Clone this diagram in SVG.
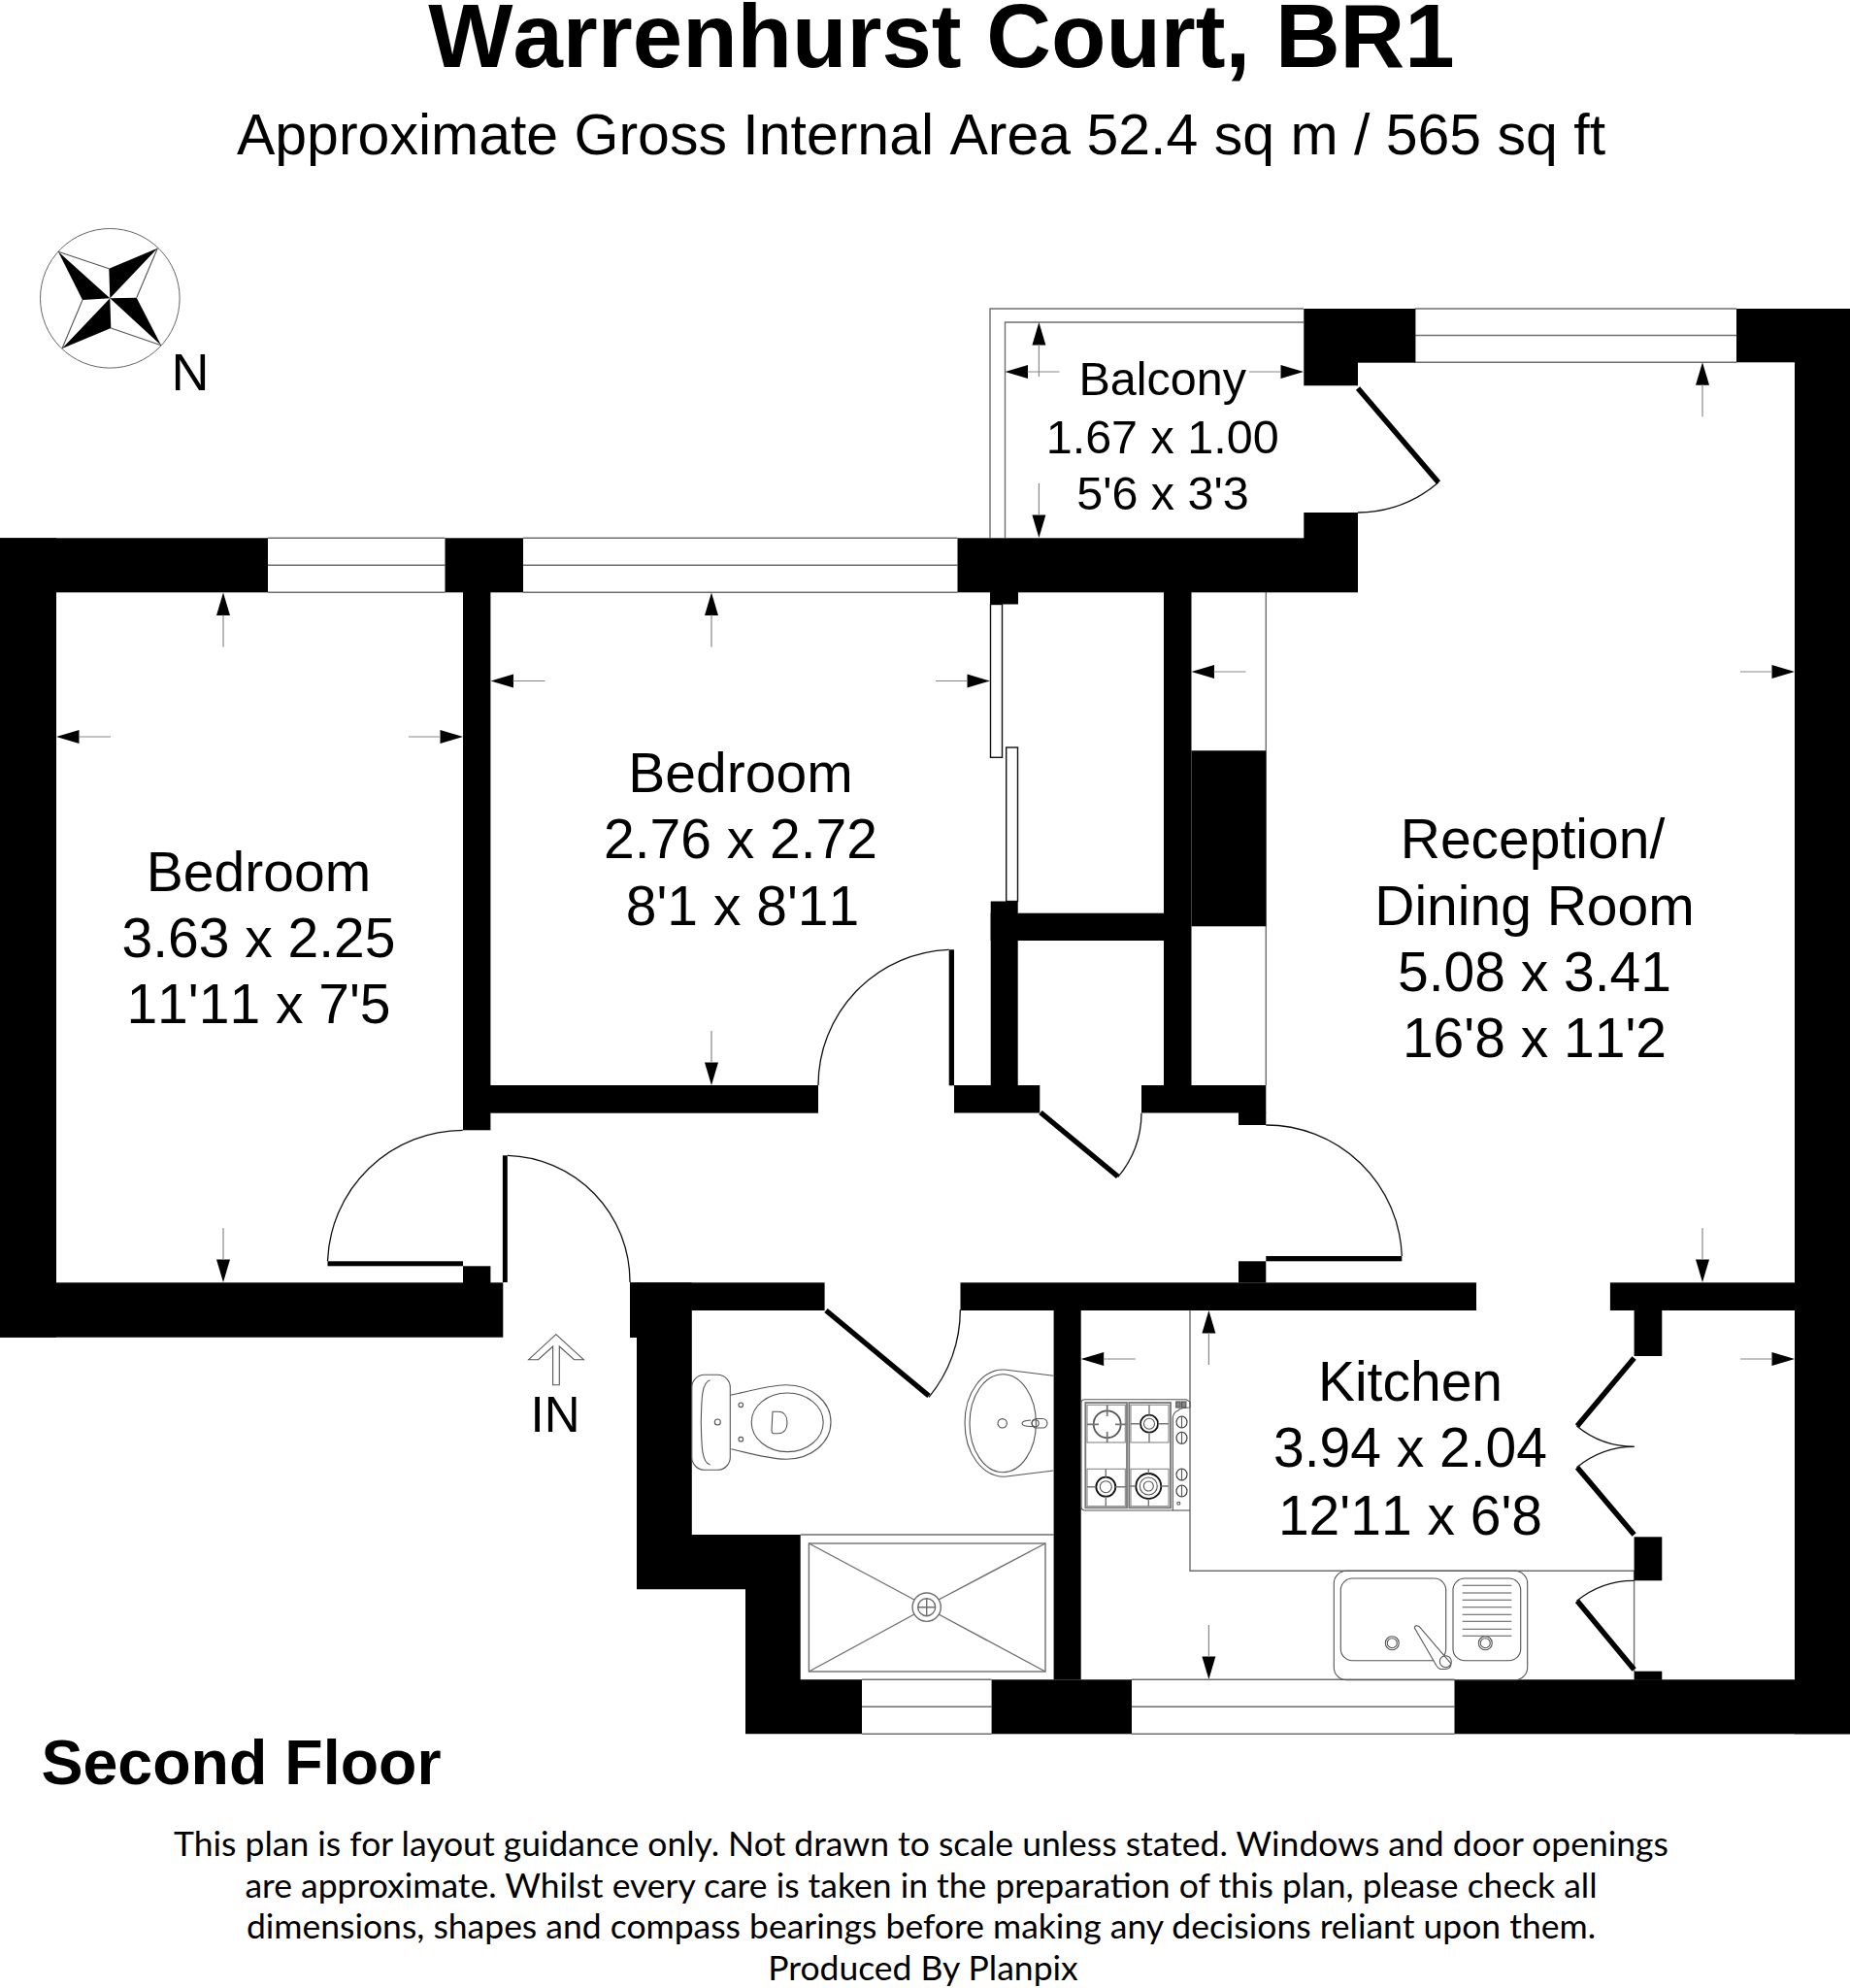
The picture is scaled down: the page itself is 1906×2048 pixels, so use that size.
<svg xmlns="http://www.w3.org/2000/svg" width="1906" height="2048" viewBox="0 0 1906 2048">
<style>
text{font-family:"Liberation Sans",Arial,sans-serif;fill:#000;text-anchor:middle;font-kerning:none}
.room{font-size:57px}
.bal{font-size:48.5px}
.foot{font-family:Lato,"Liberation Sans",sans-serif;font-size:35.5px;font-kerning:normal}
.w{fill:#000}
.t{fill:none;stroke:#6e6e6e;stroke-width:1.4}
.f{fill:none;stroke:#555;stroke-width:1.1}
.k{fill:none;stroke:#111;stroke-width:1.4}
.leaf{fill:none;stroke:#000;stroke-width:5.5}
.arc{fill:none;stroke:#111;stroke-width:1.3}
.stem{stroke:#888;stroke-width:1.2}
</style>
<defs>
<g id="aU"><path d="M0 0L-7 23.500H7Z" fill="#000"/><line x1="0" y1="23" x2="0" y2="56" class="stem"/></g>
<g id="aD"><path d="M0 0L-7 -23.500H7Z" fill="#000"/><line x1="0" y1="-23" x2="0" y2="-56" class="stem"/></g>
<g id="aL"><path d="M0 0L23.500 -7V7Z" fill="#000"/><line x1="23" y1="0" x2="56" y2="0" class="stem"/></g>
<g id="aR"><path d="M0 0L-23.500 -7V7Z" fill="#000"/><line x1="-23" y1="0" x2="-56" y2="0" class="stem"/></g>
</defs>
<rect width="1906" height="2048" fill="#fff"/>

<g id="title">
<text x="970" y="69" font-size="92.400" font-weight="700">Warrenhurst Court, BR1</text>
<text x="949" y="159" font-size="59">Approximate Gross Internal Area 52.4 sq m / 565 sq ft</text>
</g>

<g id="compass">
<circle cx="113.300" cy="307.300" r="71.800" fill="none" stroke="#666" stroke-width="1"/>
<path class="f" d="M60 259.300L112.300 276.700M162.300 255.700L140.700 306.700M166 355.700L114.300 338M64 359L85 309"/>
<path class="w" d="M60 259.300L113.300 307.300L85 309ZM162.300 255.700L113.300 307.300L112.300 276.700ZM166 355.700L113.300 307.300L140.700 306.700ZM64 359L113.300 307.300L114.300 338Z"/>
<text x="196" y="402" font-size="54">N</text>
</g>

<g id="thin-lines">
<path class="t" d="M276 554.300H458.500M276 582.300H458.500M276 610.300H458.500"/>
<path class="t" d="M539 554.300H986.500M539 582.300H986.500M539 610.300H986.500"/>
<path class="t" d="M1458 318H1789M1458 345.500H1789M1399 373.300H1789"/>
<path class="t" d="M888 1730.300H1021.600M888 1758.300H1021.600M888 1786.300H1021.600"/>
<path class="t" d="M1165.800 1730.300H1498.500M1165.800 1758.300H1498.500M1165.800 1786.300H1498.500"/>
<path class="t" d="M1020 554V318H1343M1035.500 554V332H1343"/>
<path class="t" d="M1304.300 610V1118M1227.500 773.600H1304.300"/>
<path class="t" d="M1226 1350V1618.300H1683.600V1722"/>
<path class="t" d="M824.700 1581H1085.600"/>
<rect class="k" x="1020.500" y="622.500" width="12" height="157.800"/>
<rect class="k" x="1036.700" y="770" width="11.800" height="158.500"/>
</g>

<g id="walls" class="w">
<rect x="0" y="554.300" width="276" height="56"/>
<rect x="0" y="554.300" width="58" height="823.400"/>
<rect x="0" y="1321.300" width="518.300" height="56.400"/>
<rect x="458.500" y="554.300" width="80.500" height="56"/>
<rect x="477" y="610" width="28.400" height="554.300"/>
<rect x="986.500" y="554.300" width="412.500" height="56"/>
<path d="M1343.300 318H1458.400V373.300H1399V397.300H1343.300Z"/>
<rect x="1343.300" y="528" width="55.700" height="30"/>
<rect x="1789" y="318" width="117" height="55.300"/>
<rect x="1849" y="318" width="57" height="1468.300"/>
<rect x="1020" y="610" width="29" height="12.500"/>
<rect x="505" y="1118" width="338" height="28.700"/>
<rect x="983" y="1118" width="88.300" height="28.500"/>
<rect x="1020.700" y="928.500" width="28" height="190"/>
<rect x="1020.700" y="940.700" width="179" height="28.300"/>
<rect x="1199" y="610" width="28.500" height="508"/>
<rect x="1227.500" y="773.600" width="76.800" height="180.700"/>
<rect x="1176" y="1118" width="128.300" height="28.500"/>
<rect x="1276" y="1146" width="28.300" height="13"/>
<rect x="1276" y="1299.300" width="28.300" height="22"/>
<rect x="477" y="1304.300" width="28.400" height="20"/>
<rect x="989.500" y="1321.300" width="531.500" height="28.700"/>
<rect x="649" y="1321.300" width="200.600" height="28.700"/>
<rect x="649" y="1321.300" width="10" height="56.700"/>
<path d="M656 1321.300H712.800V1581H824.700V1730.300H888V1786.300H768V1637.300H656Z"/>
<rect x="1085.600" y="1350" width="28.100" height="380.300"/>
<rect x="1021.600" y="1730.300" width="144.400" height="56"/>
<rect x="1498.500" y="1730.300" width="407.500" height="56"/>
<rect x="1658.900" y="1321.300" width="190.100" height="28.700"/>
<rect x="1683.600" y="1350" width="28.700" height="47"/>
<rect x="1683.600" y="1583.300" width="28.700" height="45"/>
<rect x="1683.600" y="1721.700" width="28.700" height="9"/>
</g>

<g id="doors">
<path class="leaf" d="M1399 400L1482 497"/><path class="arc" d="M1482 497A130 130 0 0 1 1399 528"/>
<rect x="977.700" y="978.300" width="5.300" height="140" class="w"/><path class="arc" d="M843 1118A140 140 0 0 1 977.700 978.300"/>
<rect x="337.500" y="1299.300" width="139.500" height="5" class="w"/><path class="arc" d="M476.800 1164.300A140 140 0 0 0 337.500 1299.300"/>
<rect x="517.900" y="1190.300" width="4.900" height="130.700" class="w"/><path class="arc" d="M522.800 1190.300A130 130 0 0 1 649 1321"/>
<rect x="1304.300" y="1294" width="140" height="5.300" class="w"/><path class="arc" d="M1304.300 1159A140 140 0 0 1 1444.300 1294"/>
<path class="leaf" d="M1072 1146L1151.700 1212"/><path class="arc" d="M1151.700 1212.700A104 104 0 0 0 1176 1146.700"/>
<path class="leaf" d="M851 1350L957 1438"/><path class="arc" d="M957 1439.300A140 140 0 0 0 989.300 1349.300"/>
<path class="leaf" d="M1683.600 1399L1625 1469"/><path class="arc" d="M1624.400 1469A93 93 0 0 0 1683.600 1490.300"/>
<path class="leaf" d="M1683.600 1581L1625 1511.700"/><path class="arc" d="M1624.400 1511.700A93 93 0 0 1 1683.600 1490.300"/>
<path class="leaf" d="M1683.600 1720L1625 1649.300"/><path class="arc" d="M1624.400 1649.300A93 93 0 0 1 1683.600 1628.300"/>
</g>

<g id="dimension-arrows">
<use href="#aU" x="230" y="610.500"/><use href="#aD" x="230" y="1321"/><use href="#aL" x="58" y="759"/><use href="#aR" x="477" y="759"/>
<use href="#aU" x="733" y="610.500"/><use href="#aD" x="733" y="1118"/><use href="#aL" x="505.500" y="701.500"/><use href="#aR" x="1020" y="701.500"/>
<use href="#aU" x="1070.400" y="332"/><use href="#aD" x="1070.400" y="554"/><use href="#aL" x="1035.500" y="383"/><use href="#aR" x="1343" y="383"/>
<use href="#aU" x="1754" y="373.300"/><use href="#aD" x="1754" y="1321"/><use href="#aL" x="1227.500" y="692"/><use href="#aR" x="1849" y="692"/>
<use href="#aU" x="1245.400" y="1350"/><use href="#aD" x="1245.400" y="1730"/><use href="#aL" x="1113.700" y="1400"/><use href="#aR" x="1849" y="1400"/>
</g>

<g id="entrance">
<path class="f" d="M572.800 1374.700L601.300 1400.700H591.600L576.300 1387V1426.700H569.600V1387L554.500 1400.700H544.600Z"/>
<text x="572" y="1475" font-size="51">IN</text>
</g>

<g id="toilet" class="f">
<rect x="712.800" y="1416.300" width="39.500" height="98" rx="13"/>
<path d="M731.700 1421.700C723 1424 722.700 1440 722.300 1465C722.700 1490 723 1507 731.700 1509"/>
<circle cx="739.300" cy="1465" r="3"/>
<path d="M752.700 1437.300C775 1432 795 1426.700 810 1426.700C836 1426.700 856 1444 856 1465C856 1486 836 1503.300 810 1503.300C795 1503.300 775 1498 753.300 1492.700"/>
<ellipse cx="811.200" cy="1465.300" rx="37" ry="30.300"/>
<circle cx="763.300" cy="1447.300" r="2.300"/><circle cx="763.300" cy="1482.700" r="2.300"/>
<path d="M796 1454.300H802C808 1454.300 811 1459 811 1465.500C811 1472 808 1476.700 802 1476.700H797C795 1476.700 795 1475 795 1473Z"/>
</g>

<g id="basin" class="f">
<path d="M1085.300 1417.300L1035 1411C1012 1410 994 1435 994 1466C994 1497 1012 1521.300 1035 1521.300L1085.300 1515"/>
<ellipse cx="1033.200" cy="1466.200" rx="34.200" ry="50.500"/>
<circle cx="1032.700" cy="1466.300" r="4.700"/>
<path d="M1053 1466.300C1053 1464 1056 1463.500 1062 1463M1053 1466.300C1053 1469 1056 1469.500 1062 1469.500H1066"/>
<circle cx="1066.700" cy="1466.300" r="3.500"/>
<rect x="1063" y="1461.500" width="16" height="9.500" rx="4.700"/>
</g>

<g id="shower" class="t">
<rect x="833.400" y="1590" width="243.600" height="132"/>
<ellipse cx="954.700" cy="1655.700" rx="14.600" ry="14.700"/>
<circle cx="954.700" cy="1655.700" r="9"/>
<path d="M945.700 1655.700H963.700M954.700 1646.700V1664.700"/>
<path d="M833.400 1590L942 1648M1077 1590L967 1648M833.400 1722L942 1663M1077 1722L967 1663"/>
</g>

<g id="hob" class="f">
<path d="M1114 1445Q1114 1441.700 1118 1441.700H1222L1226 1444V1450Q1216 1450 1214 1453Q1209 1455 1208.300 1460V1556H1118Q1114 1556 1114 1552Z"/>
<path d="M1208.300 1556H1226"/>
<rect x="1118.300" y="1445" width="42.700" height="108.300" stroke-width="1.800" stroke="#777"/>
<rect x="1163.300" y="1445" width="42.700" height="108.300" stroke-width="1.800" stroke="#777"/>
<rect x="1120" y="1447.300" width="39.300" height="38.700" stroke="#888"/>
<rect x="1165" y="1447.300" width="39" height="38.700" stroke="#888"/>
<rect x="1120" y="1513.300" width="39.300" height="38.400" stroke="#888"/>
<rect x="1165" y="1513.300" width="39" height="38.400" stroke="#888"/>
<circle cx="1140.700" cy="1467.300" r="14" stroke-width="1.800"/>
<path d="M1120 1467.300H1132M1149 1467.300H1160M1140.700 1447.300V1459M1140.700 1475V1486" stroke-width="1.800" stroke="#777"/>
<circle cx="1184" cy="1466.700" r="9" stroke="#111" stroke-width="1.800"/><circle cx="1184" cy="1466.700" r="5.500"/>
<path d="M1165 1466.700H1175M1193 1466.700H1204M1184 1447.300V1457.700M1184 1475.700V1486" stroke-width="1.400" stroke="#777"/>
<circle cx="1139.300" cy="1531.700" r="10" stroke="#111" stroke-width="1.800"/><circle cx="1139.300" cy="1531.700" r="6"/>
<path d="M1120 1531.700H1129M1149.300 1531.700H1161M1139.300 1513.300V1521.700M1139.300 1541.700V1551.700" stroke-width="1.400" stroke="#777"/>
<circle cx="1183.300" cy="1531" r="13" stroke="#111" stroke-width="1.800"/><circle cx="1183.300" cy="1531" r="9"/><circle cx="1183.300" cy="1531" r="5"/>
<path d="M1163.500 1531H1170M1196.300 1531H1204M1183.300 1513.300V1518M1183.300 1544V1551.700" stroke-width="1.400" stroke="#777"/>
<g stroke="#333"><ellipse cx="1217.500" cy="1465" rx="5.500" ry="6"/><ellipse cx="1217.500" cy="1481.300" rx="5.500" ry="6"/><ellipse cx="1217.500" cy="1519" rx="5.500" ry="6"/><ellipse cx="1217.500" cy="1536" rx="5.500" ry="6"/></g>
<path d="M1217.500 1459V1471M1217.500 1475.300V1487.300M1217.500 1513V1525M1217.500 1530V1542"/>
<circle cx="1214.300" cy="1548.700" r="1.500"/>
<rect x="1211.700" y="1444" width="4.400" height="6" fill="#888"/><rect x="1217.500" y="1444" width="4.400" height="6" fill="#888"/>
</g>

<g id="sink" class="f">
<rect x="1374.300" y="1618.300" width="199.400" height="112.400" rx="13"/>
<rect x="1381.300" y="1626" width="108.400" height="84.700" rx="12"/>
<rect x="1497" y="1626" width="69.700" height="84.700" rx="12"/>
<path d="M1506.700 1633.300H1557.300M1506.700 1641H1557.300M1506.700 1648.300H1557.300M1506.700 1655.700H1557.300M1506.700 1663.300H1557.300M1506.700 1670.300H1557.300M1506.700 1678.300H1557.300M1506.700 1685.300H1557.300"/>
<circle cx="1434.300" cy="1692.700" r="7"/><circle cx="1434.300" cy="1692.700" r="5"/>
<circle cx="1530.300" cy="1692.700" r="7"/><circle cx="1530.300" cy="1692.700" r="5"/>
<path d="M1457.300 1677Q1458 1673.500 1462 1675.500L1495 1714Q1495 1720 1487 1719.500H1484Q1482 1719 1480 1716Z" fill="#fff"/>
<circle cx="1489.300" cy="1711.700" r="6"/>
</g>

<g id="room-labels">
<g id="bedroom-1"><text class="room" x="266.500" y="917.500">Bedroom</text><text class="room" x="266.500" y="986">3.63 x 2.25</text><text class="room" x="266.500" y="1054">11'11 x 7'5</text></g>
<g id="bedroom-2"><text class="room" x="763" y="815.500">Bedroom</text><text class="room" x="763" y="883.500">2.76 x 2.72</text><text class="room" x="765" y="953">8'1 x 8'11</text></g>
<g id="balcony"><text class="bal" x="1197.700" y="407">Balcony</text><text class="bal" x="1197.700" y="467">1.67 x 1.00</text><text class="bal" x="1198" y="525">5'6 x 3'3</text></g>
<g id="reception"><text class="room" x="1579" y="883.500">Reception/</text><text class="room" x="1581" y="952.500">Dining Room</text><text class="room" x="1581" y="1020.500">5.08 x 3.41</text><text class="room" x="1581" y="1089">16'8 x 11'2</text></g>
<g id="kitchen"><text class="room" x="1453" y="1443.300">Kitchen</text><text class="room" x="1453" y="1510.500">3.94 x 2.04</text><text class="room" x="1453" y="1580.700">12'11 x 6'8</text></g>
</g>

<g id="footer">
<text x="248.500" y="1838" font-size="64.500" font-weight="700">Second Floor</text>
<text class="foot" x="949" y="1912">This plan is for layout guidance only. Not drawn to scale unless stated. Windows and door openings</text>
<text class="foot" x="949" y="1955">are approximate. Whilst every care is taken in the preparation of this plan, please check all</text>
<text class="foot" x="949" y="1997">dimensions, shapes and compass bearings before making any decisions reliant upon them.</text>
<text class="foot" x="951" y="2040">Produced By Planpix</text>
</g>
</svg>
